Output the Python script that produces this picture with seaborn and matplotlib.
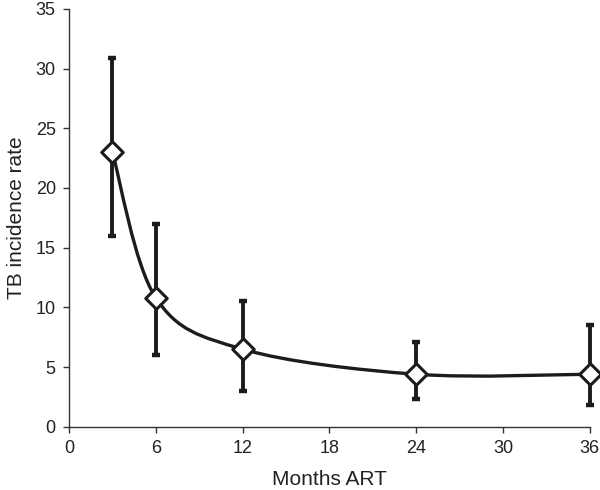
import numpy as np
import pandas as pd
import matplotlib
matplotlib.use('Agg')
import matplotlib.pyplot as plt
from matplotlib.path import Path
from matplotlib.patches import PathPatch
import seaborn as sns

# Data
months = [3, 6, 12, 24, 36]
rate = [23.0, 10.8, 6.5, 4.4, 4.4]
ci_low = [16.0, 6.0, 3.0, 2.3, 1.8]
ci_high = [30.9, 17.0, 10.5, 7.1, 8.5]

x_ticks = [0, 6, 12, 18, 24, 30, 36]
y_ticks = [0, 5, 10, 15, 20, 25, 30, 35]

df = pd.DataFrame({'months': months, 'rate': rate, 'lo': ci_low, 'hi': ci_high})

sns.set_style('ticks')
plt.rcParams['font.family'] = ['Liberation Sans', 'DejaVu Sans']

fig = plt.figure(figsize=(6, 4.9), dpi=100)
ax = fig.add_axes([0.115, 0.129, 0.868, 0.853])

ink = '#1c1c1c'

# smoothed line (Excel-style Bezier through the points)
pts = df[['months', 'rate']].to_numpy(dtype=float)
n = len(pts)
verts = [pts[0]]
codes = [Path.MOVETO]
for i in range(n - 1):
    p_prev = pts[i - 1] if i > 0 else pts[i]
    p_next2 = pts[i + 2] if i + 2 < n else pts[i + 1]
    c1 = pts[i] + (pts[i + 1] - p_prev) / 6
    c2 = pts[i + 1] - (p_next2 - pts[i]) / 6
    verts += [c1, c2, pts[i + 1]]
    codes += [Path.CURVE4] * 3
ax.add_patch(PathPatch(Path(verts, codes), facecolor='none', edgecolor=ink,
                       lw=2.4, transform=ax.transData, zorder=2))

# error bars
ax.errorbar(df['months'], df['rate'],
            yerr=[df['rate'] - df['lo'], df['hi'] - df['rate']],
            fmt='none', ecolor=ink, elinewidth=2.8, capsize=3.2, capthick=3.2,
            zorder=3)

# markers
sns.scatterplot(data=df, x='months', y='rate', marker='D', s=120,
                color='white', edgecolor=ink, linewidth=2.2, ax=ax, zorder=4)

# let the last point spill over the right edge like the original
for art in ax.get_children():
    if not isinstance(art, matplotlib.spines.Spine):
        art.set_clip_on(False)

ax.set_xlim(0, 36)
ax.set_ylim(0, 35)
ax.set_xticks(x_ticks)
ax.set_yticks(y_ticks)
ax.set_xlabel('Months ART', fontsize=15, color='#222222', labelpad=9.5)
ax.set_ylabel('TB incidence rate', fontsize=15, color='#222222', labelpad=7)
ax.tick_params(labelsize=13, colors='#333333', length=4.5, width=1,
               pad=5, labelcolor='#222222')
for side in ['left', 'bottom']:
    ax.spines[side].set_color('#333333')
    ax.spines[side].set_linewidth(1)
sns.despine(ax=ax)

fig.savefig('out.png', dpi=100)
